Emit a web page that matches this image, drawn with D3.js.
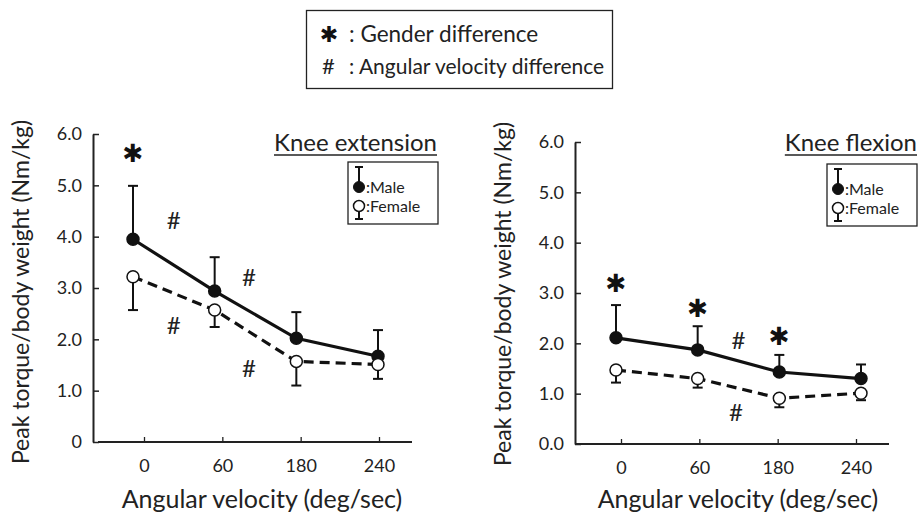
<!DOCTYPE html>
<html><head><meta charset="utf-8">
<script src="https://cdn.jsdelivr.net/npm/d3@7"></script>
<style>body{margin:0;background:#fff}svg{display:block}text{font-family:Lato,"Open Sans",sans-serif;fill:#222}.star{font-family:"DejaVu Sans",sans-serif;fill:#111}</style>
</head><body>
<svg id="c" width="919" height="518"></svg>
<script>
const velocities = ["0", "60", "180", "240"];
const yTickValues = [0, 1, 2, 3, 4, 5, 6];
const yTickLabelsExt = ["0", "1.0", "2.0", "3.0", "4.0", "5.0", "6.0"];
const yTickLabelsFlex = ["0.0", "1.0", "2.0", "3.0", "4.0", "5.0", "6.0"];

const extMaleMean = [3.95, 2.94, 2.02, 1.67];
const extMaleSD = [1.04, 0.66, 0.51, 0.51];
const extFemaleMean = [3.22, 2.57, 1.57, 1.51];
const extFemaleSD = [0.65, 0.33, 0.47, 0.28];

const flexMaleMean = [2.11, 1.87, 1.43, 1.30];
const flexMaleSD = [0.65, 0.47, 0.34, 0.28];
const flexFemaleMean = [1.47, 1.30, 0.91, 1.01];
const flexFemaleSD = [0.25, 0.18, 0.18, 0.14];

// annotations: [category index position, value]
const extStars = [[0, 5.63]];
const extHashes = [[0.5, 4.32], [1.42, 3.21], [0.5, 2.28], [1.42, 1.44]];
const flexStars = [[0, 3.19], [1, 2.70], [2, 2.14]];
const flexHashes = [[1.5, 2.06], [1.47, 0.63]];

const svg = d3.select("#c");

// top legend
const tl = svg.append("g");
tl.append("rect").attr("x", 306.5).attr("y", 10.5).attr("width", 306).attr("height", 78)
  .attr("fill", "none").attr("stroke", "#222").attr("stroke-width", 1.3);
tl.append("text").attr("class", "star").attr("x", 329).attr("y", 42).attr("text-anchor", "middle")
  .style("font-size", "22px").text("✱");
tl.append("text").attr("x", 349).attr("y", 42).style("font-size", "22.5px").text(": Gender difference");
tl.append("text").attr("x", 322).attr("y", 74).style("font-size", "22px").text("#");
tl.append("text").attr("x", 349).attr("y", 74).style("font-size", "21px").text(": Angular velocity difference");

function panel(cfg) {
  const g = svg.append("g");
  const y = d3.scaleLinear().domain([0, 6]).range([cfg.y0, cfg.y6]);
  const xt = d3.scalePoint().domain(velocities).range(cfg.tickRange);
  const xm = d3.scaleLinear().domain([0, 3]).range(cfg.markRange);

  // y axis
  const ya = g.append("g").attr("transform", `translate(${cfg.ax},0)`)
    .call(d3.axisLeft(y).tickValues(yTickValues).tickFormat((d, i) => cfg.yLabels[i])
      .tickSizeInner(-6).tickSizeOuter(0).tickPadding(11));
  ya.select(".domain").attr("stroke", "#222").attr("stroke-width", 2);
  ya.selectAll(".tick line").attr("stroke", "#222").attr("stroke-width", 1.5);
  ya.selectAll(".tick text").style("font-size", "18px").style("font-family", "Lato, sans-serif").attr("fill", "#222");

  // x axis
  const xa = g.append("g").attr("transform", `translate(0,${cfg.y0})`)
    .call(d3.axisBottom(xt).tickSizeInner(-5).tickSizeOuter(0).tickPadding(17));
  xa.select(".domain").remove();
  xa.append("line").attr("x1", cfg.xLine[0]).attr("x2", cfg.xLine[1]).attr("stroke", "#222").attr("stroke-width", 2.2);
  xa.selectAll(".tick line").attr("stroke", "#222").attr("stroke-width", 1.3);
  xa.selectAll(".tick text").style("font-size", "18px").style("font-family", "Lato, sans-serif").attr("fill", "#222");

  // axis titles
  g.append("text").attr("transform", `translate(${cfg.ylabX},${cfg.ylabY}) rotate(-90)`)
    .attr("text-anchor", "middle").style("font-size", "23px").text("Peak torque/body weight (Nm/kg)");
  g.append("text").attr("x", cfg.xlabX).attr("y", 508).attr("text-anchor", "middle")
    .style("font-size", "25px").text("Angular velocity (deg/sec)");

  // title
  const tt = g.append("text").attr("x", cfg.titleX).attr("y", 151).attr("text-anchor", "end")
    .style("font-size", "24px").text(cfg.title);
  const tw = tt.node().getComputedTextLength();
  g.append("line").attr("x1", cfg.titleX - tw).attr("x2", cfg.titleX).attr("y1", 155).attr("y2", 155)
    .attr("stroke", "#222").attr("stroke-width", 1.5);

  // series
  const series = [
    {mean: cfg.maleMean, sd: cfg.maleSD, dir: 1, fill: "#111", dash: null},
    {mean: cfg.femaleMean, sd: cfg.femaleSD, dir: -1, fill: "#fff", dash: "10,6"}
  ];
  series.forEach(s => {
    s.mean.forEach((m, i) => {
      const cx = xm(i), ye = y(m + s.dir * s.sd[i]);
      g.append("line").attr("x1", cx).attr("x2", cx).attr("y1", y(m)).attr("y2", ye)
        .attr("stroke", "#111").attr("stroke-width", 2);
      g.append("line").attr("x1", cx - 5).attr("x2", cx + 5).attr("y1", ye).attr("y2", ye)
        .attr("stroke", "#111").attr("stroke-width", 2);
    });
  });
  series.forEach(s => {
    const line = d3.line().x((d, i) => xm(i)).y(d => y(d));
    g.append("path").attr("d", line(s.mean)).attr("fill", "none").attr("stroke", "#111")
      .attr("stroke-width", 3.2).attr("stroke-dasharray", s.dash);
  });
  series.forEach(s => {
    g.selectAll(null).data(s.mean).enter().append("circle")
      .attr("cx", (d, i) => xm(i)).attr("cy", d => y(d)).attr("r", 6)
      .attr("fill", s.fill).attr("stroke", "#111").attr("stroke-width", 1.5);
  });

  // annotations
  cfg.stars.forEach(([p, v]) => {
    g.append("text").attr("class", "star").attr("x", xm(p)).attr("y", y(v) + 9).attr("text-anchor", "middle")
      .style("font-size", "25px").text("✱");
  });
  cfg.hashes.forEach(([p, v]) => {
    g.append("text").attr("x", xm(p)).attr("y", y(v) + 9).attr("text-anchor", "middle")
      .style("font-size", "24px").text("#");
  });

  // legend box
  const lx = cfg.legX, ly = cfg.legY;
  g.append("rect").attr("x", lx).attr("y", ly).attr("width", 90).attr("height", 62)
    .attr("fill", "#fff").attr("stroke", "#222").attr("stroke-width", 1.3);
  const cx = lx + 11;
  g.append("line").attr("x1", cx).attr("x2", cx).attr("y1", ly + 5).attr("y2", ly + 25).attr("stroke", "#111").attr("stroke-width", 2);
  g.append("line").attr("x1", cx - 4).attr("x2", cx + 4).attr("y1", ly + 5).attr("y2", ly + 5).attr("stroke", "#111").attr("stroke-width", 2);
  g.append("line").attr("x1", cx).attr("x2", cx).attr("y1", ly + 44).attr("y2", ly + 57).attr("stroke", "#111").attr("stroke-width", 2);
  g.append("line").attr("x1", cx - 4).attr("x2", cx + 4).attr("y1", ly + 57).attr("y2", ly + 57).attr("stroke", "#111").attr("stroke-width", 2);
  g.append("circle").attr("cx", cx).attr("cy", ly + 25).attr("r", 5.5).attr("fill", "#111").attr("stroke", "#111");
  g.append("circle").attr("cx", cx).attr("cy", ly + 44).attr("r", 5.5).attr("fill", "#fff").attr("stroke", "#111").attr("stroke-width", 1.5);
  g.append("text").attr("x", cx + 7).attr("y", ly + 31).style("font-size", "16px").text(":Male");
  g.append("text").attr("x", cx + 7).attr("y", ly + 50).style("font-size", "16px").text(":Female");
}

panel({
  y0: 442, y6: 134, ax: 93, tickRange: [144, 379], markRange: [133, 378], xLine: [98, 412],
  yLabels: yTickLabelsExt, ylabX: 29, ylabY: 292, xlabX: 262, title: "Knee extension", titleX: 437,
  maleMean: extMaleMean, maleSD: extMaleSD, femaleMean: extFemaleMean, femaleSD: extFemaleSD,
  stars: extStars, hashes: extHashes, legX: 348, legY: 162
});
panel({
  y0: 444, y6: 142, ax: 575, tickRange: [621, 856], markRange: [616, 861], xLine: [575, 889],
  yLabels: yTickLabelsFlex, ylabX: 511, ylabY: 294, xlabX: 738, title: "Knee flexion", titleX: 917,
  maleMean: flexMaleMean, maleSD: flexMaleSD, femaleMean: flexFemaleMean, femaleSD: flexFemaleSD,
  stars: flexStars, hashes: flexHashes, legX: 827, legY: 164
});
</script>
</body></html>
